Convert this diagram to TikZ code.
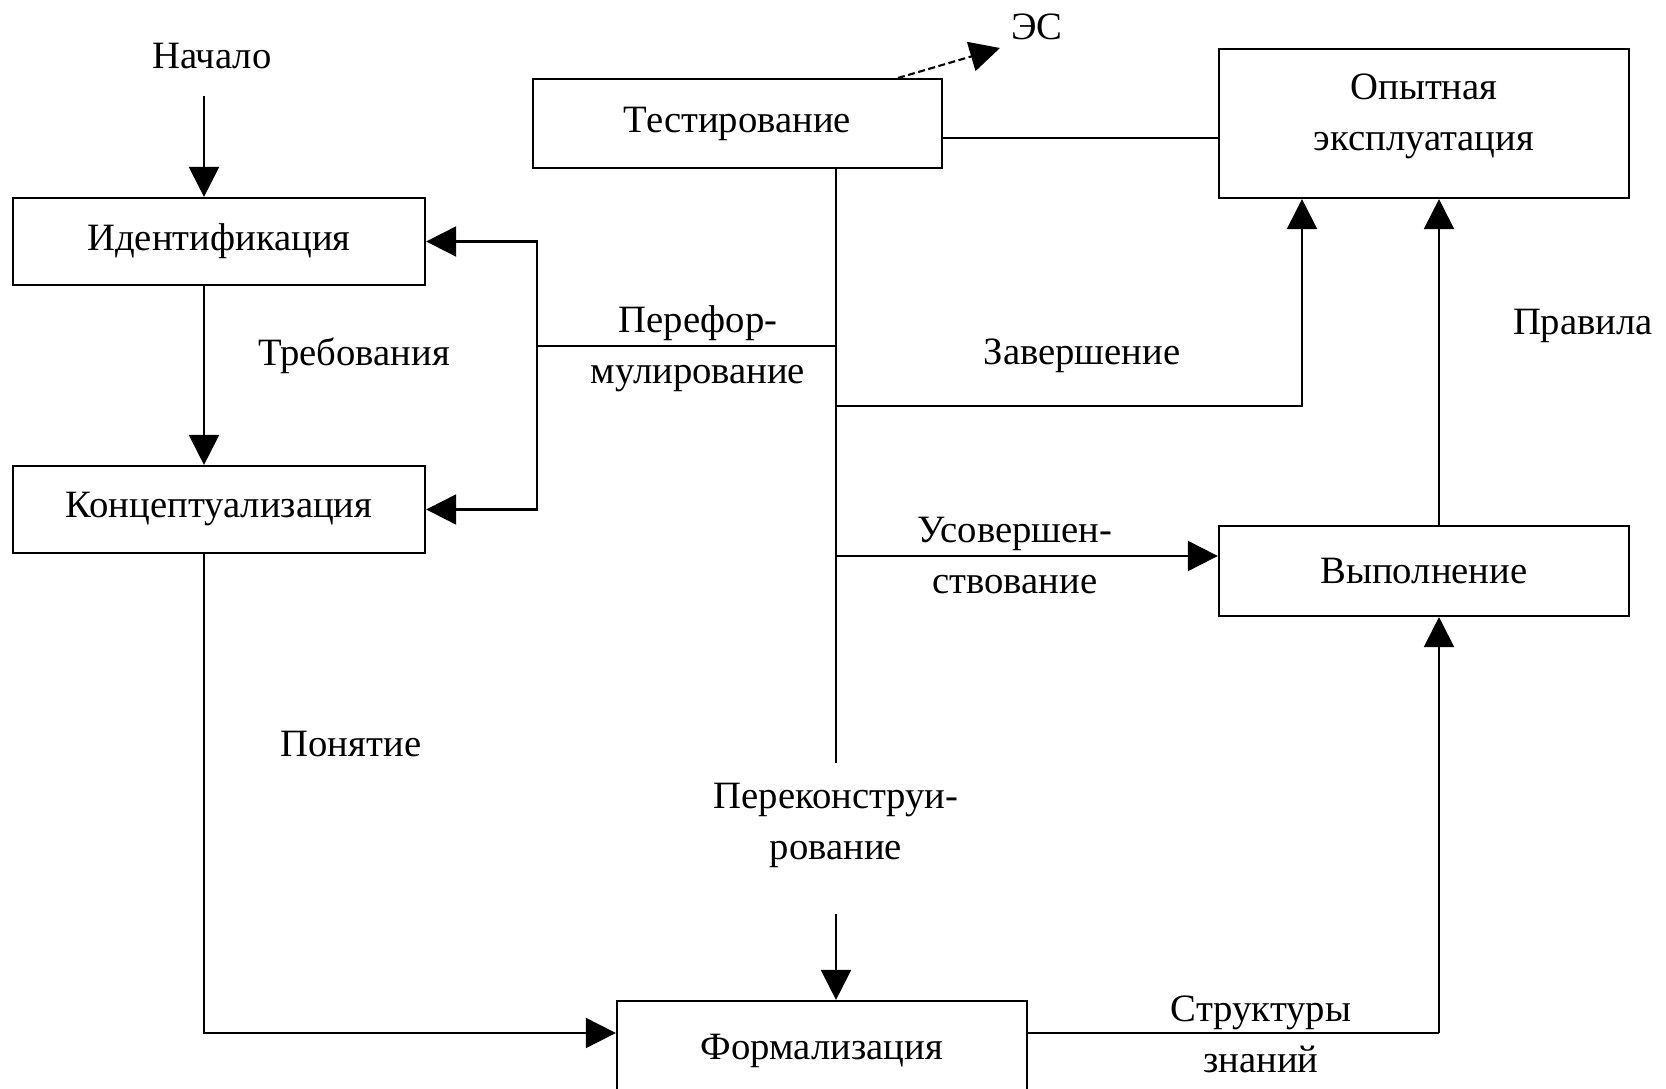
\documentclass[tikz,border=0pt]{standalone}
\usepackage{fontspec}
\setmainfont{Liberation Serif}
\usetikzlibrary{arrows.meta,positioning}

\begin{document}
\begin{tikzpicture}[
    x=0.01cm,
    y=-0.01cm,
    >={Triangle[length=0.30cm,width=0.30cm]},
    font=\fontsize{11}{14.5}\selectfont,
    stage/.style={draw,line width=0.6pt,minimum width=4.12cm,
        minimum height=0.87cm,inner sep=0pt,align=center},
    link/.style={line width=0.6pt},
    flow/.style={link,->},
    esflow/.style={link,->,dash pattern=on 0.07cm off 0.035cm}
]

\useasboundingbox (0,0) rectangle (1666,1089);

% ---------------------------------------------------------
% Stages
% ---------------------------------------------------------

\node[stage] (ident) at (219,241.5) {Идентификация};

\node[stage] (concept) at (219,509.5) {Концептуализация};

\node[stage,minimum width=4.09cm,minimum height=0.89cm]
    (test) at (737.5,123.5) {Тестирование};

\node[stage,minimum width=4.10cm,minimum height=1.49cm]
    (opyt) at (1424,123.5) {};
\node[align=center] (opyttext) at (1424,116.5) {Опытная\\эксплуатация};

\node[stage,minimum width=4.10cm,minimum height=0.90cm]
    (exec) at (1424,571) {Выполнение};

\node[stage,minimum width=4.10cm,minimum height=1.00cm]
    (formal) at (822,1051) {Формализация};

% ---------------------------------------------------------
% Labels
% ---------------------------------------------------------

\node (start) at (212,56) {Начало};
\node (es) at (1037,27) {ЭС};
\node (req) at (354,356) {Требования};
\node (notion) at (351,744) {Понятие};
\node[align=center] (reform) at (698,349) {Перефор-\\мулирование};
\node (finish) at (1082,356) {Завершение};
\node (rules) at (1583,326) {Правила};
\node[align=center] (improve) at (1015,556) {Усовершен-\\ствование};
\node[align=center] (rebuild) at (836,825) {Переконструи-\\рование};
\node[align=center] (struct) at (1261,1034) {Структуры\\знаний};

% ---------------------------------------------------------
% Junction points
% ---------------------------------------------------------

\coordinate (startend) at (204,96);
\coordinate (fork) at (537,346);
\coordinate (spinetop) at (836,168);
\coordinate (spineend) at (836,763);
\coordinate (trial) at (0,138);
\coordinate (done) at (1302,406);
\coordinate (better) at (836,556);
\coordinate (rebuildtop) at (836,914);
\coordinate (rise) at (1439,1033);
\coordinate (esfoot) at (898,78);
\coordinate (estip) at (1000,48);

% ---------------------------------------------------------
% Left column
% ---------------------------------------------------------

\draw[flow] (startend) -- (startend |- ident.north);
\draw[flow] (ident.south -| startend) -- (concept.north -| startend);
\draw[flow] (concept.south -| startend) |- (formal.west |- rise);

% Reformulation feedback
\draw[flow] (fork) |- (ident.east);
\draw[flow] (fork) |- (concept.east);
\draw[link] (fork) -- (fork -| spinetop);

% ---------------------------------------------------------
% Testing and its branches
% ---------------------------------------------------------

\draw[link] (spinetop) -- (spineend);
\draw[link] (test.east |- trial) -- (opyt.west |- trial);
\draw[esflow] (esfoot) -- (estip);

\draw[flow] (spinetop |- done) -| (opyt.south -| done);
\draw[flow] (better) -- (better -| exec.west);
\draw[flow] (rebuildtop) -- (rebuildtop |- formal.north);

% ---------------------------------------------------------
% Right column
% ---------------------------------------------------------

\draw[link] (formal.east |- rise) -- (rise);
\draw[flow] (rise) -- (rise |- exec.south);
\draw[flow] (exec.north -| rise) -- (opyt.south -| rise);

\end{tikzpicture}
\end{document}
